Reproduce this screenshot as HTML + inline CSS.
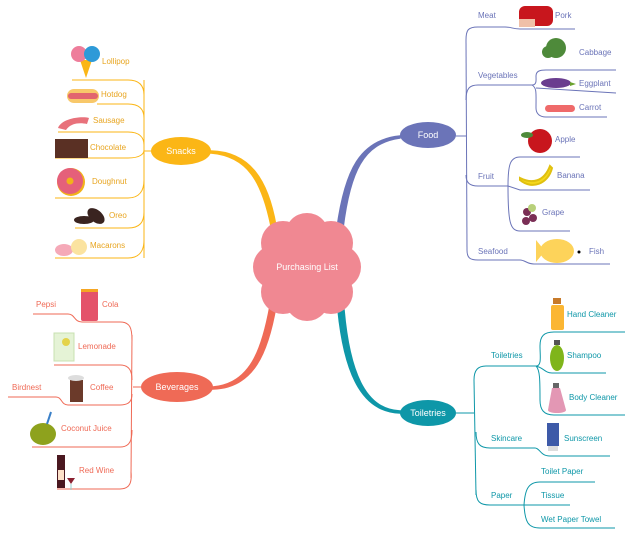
<!DOCTYPE html>
<html><head><meta charset="utf-8"><style>
html,body{margin:0;padding:0;background:#fff;}
svg{display:block;font-family:"Liberation Sans",sans-serif;}
</style></head><body>
<svg width="630" height="534" viewBox="0 0 630 534" xmlns="http://www.w3.org/2000/svg">
<!-- main connectors -->
<path d="M211,151 C250,152 268,180 276,226 L271,226 C262,182 248,156 211,153Z" fill="#fbb616" stroke="#fbb616" stroke-width="1.5"/>
<path d="M400,136 C360,140 345,170 337,228 L343,228 C350,172 363,143 400,138Z" fill="#6b74b8" stroke="#6b74b8" stroke-width="1.5"/>
<path d="M213,387 C250,384 262,350 270,306 L276,306 C268,352 254,388 213,389Z" fill="#ef6a56" stroke="#ef6a56" stroke-width="1.5"/>
<path d="M400,413 C365,412 345,380 338,310 L344,310 C350,378 368,410 400,411Z" fill="#0e97a8" stroke="#0e97a8" stroke-width="1.5"/>
<!-- cloud -->
<g fill="#f08892">
<circle cx="307" cy="235" r="22"/><circle cx="283" cy="243" r="22"/><circle cx="331" cy="243" r="22"/>
<circle cx="275" cy="267" r="22"/><circle cx="339" cy="267" r="22"/>
<circle cx="283" cy="292" r="22"/><circle cx="331" cy="292" r="22"/><circle cx="307" cy="299" r="22"/>
<circle cx="307" cy="267" r="35"/>
</g>
<text x="307" y="270" font-size="9" fill="#fff" text-anchor="middle">Purchasing List</text>

<!-- SNACKS -->
<g fill="none" stroke="#fbb616" stroke-width="1">
<path d="M144,80 L144,258"/><path d="M144,151 L152,151"/>
<path d="M72,80 L128,80 C140,80 144,86 144,95"/>
<path d="M97,104 L128,104 C140,104 144,110 144,118"/>
<path d="M58,132 L128,132 C140,132 144,138 144,145"/>
<path d="M55,158 L128,158 C140,158 144,154 144,150"/>
<path d="M55,198 L128,198 C140,198 144,190 144,180"/>
<path d="M75,228 L128,228 C140,228 144,222 144,212"/>
<path d="M55,258 L128,258 C140,258 144,250 144,240"/>
</g>
<ellipse cx="181" cy="151" rx="30" ry="14" fill="#fbb616"/>
<text x="181" y="154" font-size="9" fill="#fff" text-anchor="middle">Snacks</text>
<g font-size="8" fill="#e8a520">
<text x="102" y="64">Lollipop</text><text x="101" y="97">Hotdog</text><text x="93" y="123">Sausage</text>
<text x="90" y="150">Chocolate</text><text x="92" y="184">Doughnut</text><text x="109" y="218">Oreo</text><text x="90" y="248">Macarons</text>
</g>
<!-- snack icons -->
<path d="M80,60 L86,78 L92,60Z" fill="#fbb616"/>
<circle cx="79" cy="54" r="8" fill="#ee7d9b"/><circle cx="92" cy="54" r="8" fill="#2e9ad8"/>
<rect x="67" y="89" width="32" height="14" rx="7" fill="#f8c86a"/><rect x="68" y="93" width="30" height="6" rx="3" fill="#e2656f"/>
<path d="M58,128 C62,118 82,116 89,118 L87,124 C78,122 70,124 66,130Z" fill="#e8717b"/>
<rect x="55" y="139" width="33" height="19" fill="#5a3024"/>
<circle cx="71" cy="182" r="14" fill="#f2b21a"/><circle cx="70" cy="181" r="13" fill="#e5607a"/><circle cx="70" cy="181" r="3.5" fill="#f2b21a"/>
<ellipse cx="84" cy="220" rx="10" ry="4" fill="#3a2420"/><ellipse cx="96" cy="216" rx="6" ry="10" transform="rotate(-50 96 216)" fill="#3a2420"/>
<ellipse cx="64" cy="250" rx="9" ry="6" fill="#f5a9b8"/><ellipse cx="79" cy="247" rx="8" ry="8" fill="#fbe3a0"/>

<!-- FOOD -->
<g fill="none" stroke="#6b74b8" stroke-width="1">
<path d="M456,136 L466,136"/>
<path d="M466,40 C466,30 468,27 478,27 L505,27 C512,27 512,29 520,29 L575,29"/>
<path d="M466,40 L467,250"/>
<path d="M466,100 C466,88 470,85 478,85 L532,85"/>
<path d="M532,85 C537,85 536,80 536,76 C536,71 540,70 546,70 L616,70"/>
<path d="M536,88 L616,93"/><path d="M532,85 C537,88 536,93 536,108 C536,114 540,117 546,117 L607,117"/>
<path d="M466,175 C466,183 470,186 478,186 L508,186"/>
<path d="M508,186 C508,165 510,157 520,157 L580,157"/>
<path d="M508,186 L520,190 L590,190"/>
<path d="M508,186 C508,222 510,231 520,231 L570,231"/>
<path d="M467,250 C467,258 470,260 478,260 L520,260 C525,260 527,264 534,264 L610,264"/>
</g>
<ellipse cx="428" cy="135" rx="28" ry="13" fill="#6b74b8"/>
<text x="428" y="138" font-size="9" fill="#fff" text-anchor="middle">Food</text>
<g font-size="8" fill="#6b74b8">
<text x="478" y="18">Meat</text><text x="555" y="18">Pork</text>
<text x="478" y="78">Vegetables</text><text x="579" y="55">Cabbage</text><text x="579" y="86">Eggplant</text><text x="579" y="110">Carrot</text>
<text x="478" y="179">Fruit</text><text x="555" y="142">Apple</text><text x="557" y="178">Banana</text><text x="542" y="215">Grape</text>
<text x="478" y="254">Seafood</text><text x="589" y="254">Fish</text>
</g>
<rect x="519" y="6" width="34" height="20" rx="6" fill="#c8161d"/><rect x="519" y="19" width="16" height="8" fill="#f0c0a8"/>
<circle cx="556" cy="48" r="10" fill="#4e8a3a"/><circle cx="548" cy="52" r="6" fill="#4e8a3a"/>
<ellipse cx="556" cy="83" rx="15" ry="5" fill="#6a3d8f"/><path d="M570,82 L576,84 L570,86Z" fill="#6aa22e"/>
<rect x="545" y="105" width="30" height="7" rx="3.5" fill="#ef6a6a"/>
<circle cx="540" cy="141" r="12" fill="#c8161d"/><ellipse cx="527" cy="135" rx="6" ry="3" fill="#4e8a3a"/>
<path d="M520,180 C532,190 548,184 552,168 L550,166 C544,182 532,184 520,178Z" fill="#f5d81b" stroke="#e0c010" stroke-width="2"/>
<circle cx="527" cy="212" r="4" fill="#7a2e55"/><circle cx="533" cy="218" r="4" fill="#7a2e55"/><circle cx="526" cy="221" r="4" fill="#7a2e55"/><circle cx="532" cy="208" r="4" fill="#b8d07a"/>
<ellipse cx="557" cy="251" rx="17" ry="12" fill="#fdd35a"/><path d="M536,240 L545,251 L536,262Z" fill="#fdd35a"/><circle cx="579" cy="252" r="1.5" fill="#000"/>

<!-- TOILETRIES -->
<g fill="none" stroke="#0e97a8" stroke-width="1">
<path d="M456,413 L474,413"/><path d="M474,380 L476,495"/>
<path d="M474,380 C474,370 478,366 486,366 L536,366"/>
<path d="M536,366 C542,366 540,356 540,346 C540,336 544,332 554,332 L625,332"/>
<path d="M536,366 C544,368 545,373 552,373 L606,373"/>
<path d="M536,366 C540,370 540,380 540,400 C540,410 544,415 554,415 L625,415"/>
<path d="M476,432 C476,444 480,448 490,448 L535,448 C540,448 540,456 550,456 L610,456"/>
<path d="M476,490 C476,502 480,505 490,505 L524,505"/>
<path d="M524,505 C525,490 528,482 540,482 L595,482"/>
<path d="M524,505 L570,505"/>
<path d="M524,505 C525,522 528,528 540,528 L615,528"/>
</g>
<ellipse cx="428" cy="413" rx="28" ry="13" fill="#0e97a8"/>
<text x="428" y="416" font-size="9" fill="#fff" text-anchor="middle">Toiletries</text>
<g font-size="8" fill="#0e97a8">
<text x="491" y="358">Toiletries</text><text x="567" y="317">Hand Cleaner</text><text x="567" y="358">Shampoo</text><text x="569" y="400">Body Cleaner</text>
<text x="491" y="441">Skincare</text><text x="564" y="441">Sunscreen</text>
<text x="491" y="498">Paper</text><text x="541" y="474">Toilet Paper</text><text x="541" y="498">Tissue</text><text x="541" y="522">Wet Paper Towel</text>
</g>
<rect x="551" y="305" width="13" height="25" rx="2" fill="#fbb633"/><rect x="553" y="298" width="8" height="6" fill="#c77a2a"/>
<ellipse cx="557" cy="358" rx="7" ry="13" fill="#7fb51a"/><rect x="554" y="340" width="6" height="5" fill="#555"/>
<path d="M552,388 L560,388 L566,410 C566,414 548,414 548,410Z" fill="#e397b4"/><rect x="553" y="383" width="6" height="5" fill="#666"/>
<rect x="547" y="423" width="12" height="23" fill="#3e5aa8"/><rect x="548" y="446" width="10" height="5" fill="#ddd"/>

<!-- BEVERAGES -->
<g fill="none" stroke="#ef6a56" stroke-width="1">
<path d="M163,387 L133,387"/><path d="M132,335 L131,478"/>
<path d="M33,314 L68,314 C75,314 74,322 82,322 L120,322 C130,322 132,328 132,340"/>
<path d="M54,365 L120,365 C130,365 132,372 132,380"/>
<path d="M8,397 L56,397 C62,397 61,405 68,405 L120,405 C130,405 132,400 132,394"/>
<path d="M32,447 L120,447 C130,447 132,440 132,430"/>
<path d="M57,489 L120,489 C130,489 132,482 131,472"/>
</g>
<ellipse cx="177" cy="387" rx="36" ry="15" fill="#ef6a56"/>
<text x="177" y="390" font-size="9" fill="#fff" text-anchor="middle">Beverages</text>
<g font-size="8" fill="#ef6a56">
<text x="36" y="307">Pepsi</text><text x="102" y="307">Cola</text><text x="78" y="349">Lemonade</text>
<text x="12" y="390">Birdnest</text><text x="90" y="390">Coffee</text><text x="61" y="431">Coconut Juice</text><text x="79" y="473">Red Wine</text>
</g>
<rect x="81" y="290" width="17" height="31" rx="2" fill="#e4536a"/><rect x="81" y="289" width="17" height="3" fill="#f5a623"/>
<rect x="54" y="333" width="20" height="28" fill="#e5f3d6" stroke="#c8e0b0"/><circle cx="66" cy="342" r="4" fill="#e4d34a"/>
<rect x="70" y="380" width="13" height="22" fill="#6b3a2a"/><ellipse cx="76" cy="378" rx="8" ry="3" fill="#ddd"/>
<ellipse cx="43" cy="434" rx="13" ry="11" fill="#8ea21d"/><path d="M47,424 L51,412" stroke="#3a80c8" stroke-width="2"/>
<rect x="57" y="455" width="8" height="33" fill="#4a1820"/><rect x="58" y="470" width="6" height="10" fill="#fce0c8"/>
<path d="M67,478 L75,478 L71,484Z" fill="#8a2030"/><path d="M71,484 L71,490" stroke="#9cc" stroke-width="1"/>
</svg>
</body></html>
